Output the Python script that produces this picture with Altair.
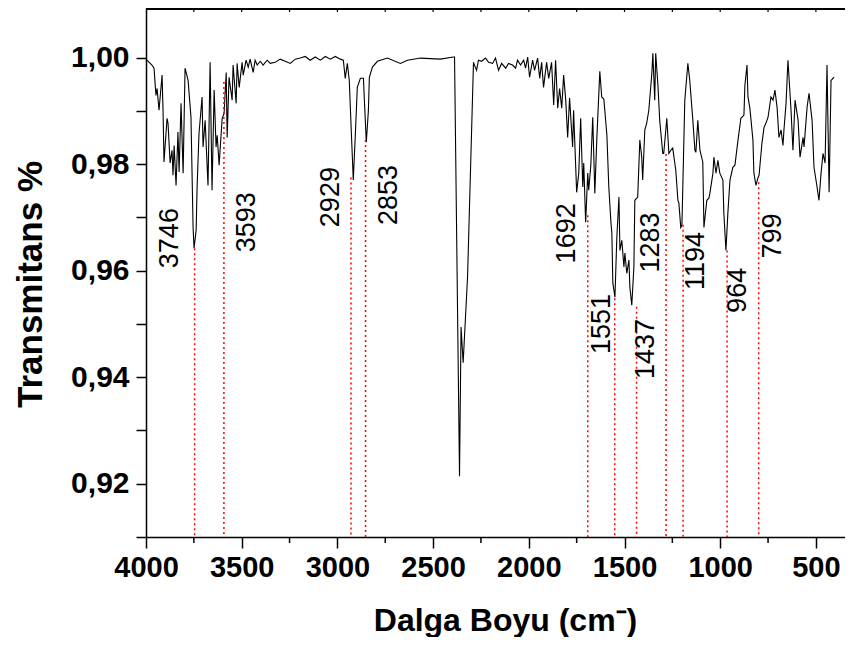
import altair as alt
import pandas as pd

# Spectrum (wavenumber cm-1, transmittance)
wavenumber = [
    3995, 3969, 3958, 3948, 3942, 3932, 3916, 3911, 3906, 3890, 3885, 3874, 3864, 3859, 3853,
    3843, 3833, 3827, 3817, 3806, 3796, 3780, 3765, 3754, 3749, 3738, 3733, 3723, 3707, 3702,
    3691, 3676, 3665, 3655, 3644, 3634, 3628, 3618, 3602, 3592, 3581, 3576, 3566, 3550, 3545,
    3529, 3524, 3513, 3498, 3492, 3477, 3466, 3456, 3440, 3430, 3419, 3403, 3388, 3367, 3351,
    3325, 3299, 3273, 3246, 3220, 3194, 3168, 3142, 3116, 3089, 3063, 3037, 3011, 2985,
    2969, 2959, 2948, 2938, 2927, 2917, 2906, 2896, 2880, 2864, 2859, 2849, 2838, 2833, 2817,
    2791, 2739, 2671, 2634, 2566, 2462, 2394, 2388, 2362, 2354, 2343, 2320, 2289, 2273, 2263,
    2247, 2226, 2210, 2189, 2174, 2158, 2142, 2121, 2106, 2085, 2069, 2059, 2043, 2027, 2017,
    2006, 1996, 1980, 1970, 1954, 1943, 1933, 1923, 1907, 1896, 1881, 1870, 1860, 1849, 1839,
    1828, 1818, 1807, 1797, 1787, 1771, 1766, 1750, 1739, 1729, 1718, 1713, 1703, 1692, 1687,
    1676, 1666, 1655, 1645, 1629, 1619, 1608, 1592, 1582, 1571, 1566, 1561, 1550, 1540, 1529,
    1524, 1514, 1503, 1498, 1488, 1477, 1472, 1462, 1451, 1446, 1431, 1420, 1410, 1405, 1394,
    1384, 1373, 1357, 1352, 1342, 1337, 1326, 1316, 1300, 1295, 1279, 1268, 1258, 1248, 1232,
    1221, 1216, 1206, 1200, 1185, 1169, 1159, 1143, 1132, 1127, 1117, 1106, 1091, 1085, 1070,
    1059, 1054, 1038, 1033, 1022, 1012, 1002, 986, 981, 970, 960, 949, 934, 923, 907,
    892, 876, 871, 860, 855, 845, 829, 824, 813, 803, 797, 782, 771, 761, 750,
    735, 724, 714, 703, 693, 682, 672, 667, 656, 646, 630, 620, 609, 593, 583,
    567, 562, 546, 536, 520, 510, 494, 484, 473, 463, 452, 442, 431, 421, 405,
]
transmittance = [
    0.9995, 0.9986, 0.9980, 0.9929, 0.9942, 0.9901, 0.9967, 0.9901, 0.9804, 0.9886, 0.9877, 0.9802, 0.9826, 0.9779, 0.9835,
    0.9760, 0.9860, 0.9785, 0.9914, 0.9783, 0.9980, 0.9957, 0.9888, 0.9681, 0.9642, 0.9676, 0.9757, 0.9858, 0.9926, 0.9832,
    0.9882, 0.9760, 0.9991, 0.9751, 0.9939, 0.9832, 0.9854, 0.9798, 0.9886, 0.9895, 0.9972, 0.9850, 0.9963, 0.9920, 0.9986,
    0.9914, 0.9989, 0.9944, 0.9991, 0.9967, 0.9995, 0.9982, 0.9997, 0.9972, 0.9995, 0.9986, 0.9993, 0.9986, 0.9995, 0.9989,
    0.9991, 0.9997, 0.9993, 0.9989, 0.9997, 0.9999, 1.0002, 0.9995, 1.0001, 0.9995, 1.0002, 0.9997, 1.0002, 0.9997,
    0.9995, 0.9961, 0.9989, 0.9957, 0.9858, 0.9770, 0.9858, 0.9944, 0.9961, 0.9961, 0.9920, 0.9841, 0.9901, 0.9963, 0.9982,
    0.9993, 0.9999, 0.9989, 0.9995, 0.9999, 0.9997, 1.0001, 1.0001, 0.9214, 0.9494, 0.9427, 0.9588, 0.9991, 0.9976, 0.9995,
    0.9993, 0.9999, 0.9991, 0.9989, 0.9999, 0.9976, 0.9989, 0.9980, 0.9989, 0.9986, 0.9980, 0.9995, 0.9986, 0.9995, 0.9980,
    1.0001, 0.9963, 0.9995, 0.9976, 0.9999, 0.9961, 0.9991, 0.9944, 0.9991, 0.9961, 0.9991, 0.9911, 0.9995, 0.9905, 0.9942,
    0.9905, 0.9967, 0.9920, 0.9850, 0.9924, 0.9832, 0.9901, 0.9747, 0.9783, 0.9886, 0.9757, 0.9802, 0.9691, 0.9783, 0.9751,
    0.9798, 0.9888, 0.9745, 0.9845, 0.9974, 0.9926, 0.9922, 0.9854, 0.9757, 0.9691, 0.9670, 0.9577, 0.9550, 0.9663, 0.9738,
    0.9638, 0.9657, 0.9607, 0.9633, 0.9595, 0.9620, 0.9569, 0.9535, 0.9607, 0.9732, 0.9738, 0.9845, 0.9813, 0.9770, 0.9864,
    0.9877, 0.9901, 0.9971, 1.0008, 0.9920, 1.0008, 0.9952, 0.9882, 0.9820, 0.9820, 0.9886, 0.9820, 0.9826, 0.9830, 0.9788,
    0.9732, 0.9727, 0.9681, 0.9685, 0.9920, 0.9989, 0.9957, 0.9882, 0.9826, 0.9822, 0.9882, 0.9826, 0.9804, 0.9681, 0.9732,
    0.9736, 0.9745, 0.9783, 0.9813, 0.9783, 0.9807, 0.9783, 0.9770, 0.9708, 0.9638, 0.9708, 0.9770, 0.9794, 0.9798, 0.9845,
    0.9886, 0.9892, 0.9948, 0.9986, 0.9926, 0.9905, 0.9845, 0.9783, 0.9760, 0.9774, 0.9779, 0.9839, 0.9869, 0.9877, 0.9888,
    0.9926, 0.9920, 0.9939, 0.9907, 0.9850, 0.9864, 0.9835, 0.9864, 0.9914, 0.9995, 0.9901, 0.9826, 0.9920, 0.9882, 0.9813,
    0.9850, 0.9832, 0.9907, 0.9933, 0.9882, 0.9794, 0.9757, 0.9732, 0.9783, 0.9820, 0.9802, 0.9986, 0.9747, 0.9957, 0.9963,
]

# Marked peaks
peaks = [3746, 3593, 2929, 2853, 1692, 1551, 1437, 1283, 1194, 964, 799]
peak_top = [0.9642, 0.9954, 0.9775, 0.9845, 0.9704, 0.9548, 0.9532, 0.9819, 0.9686, 0.9638, 0.9766]
label_x = [3874, 3471, 3032, 2728, 1802, 1619, 1389, 1363, 1127, 907, 724]
label_y = [0.9661, 0.9691, 0.9738, 0.9742, 0.9670, 0.9500, 0.9453, 0.9653, 0.9618, 0.9563, 0.9665]

x_major = [4000, 3500, 3000, 2500, 2000, 1500, 1000, 500]
x_minor = [3750, 3250, 2750, 2250, 1750, 1250, 750]
x_top_ticks = [3750, 3500, 3250, 3000, 2750, 2500, 2250, 2000, 1750, 1500, 1250, 1000, 750, 500]
y_ticks = [0.91, 0.92, 0.93, 0.94, 0.95, 0.96, 0.97, 0.98, 0.99, 1.00]

W, H = 699, 529
FONT = "Liberation Sans"

spec = pd.DataFrame({"wn": wavenumber, "t": transmittance, "i": range(len(wavenumber))})
pk = pd.DataFrame({"wn": peaks, "t": peak_top, "lx": label_x, "ly": label_y,
                   "txt": [str(p) for p in peaks]})
minor_df = pd.DataFrame({"wn": x_minor})
top_df = pd.DataFrame({"wn": x_top_ticks})

xs = alt.Scale(domain=[348, 4000], reverse=True, nice=False, zero=False)
ys = alt.Scale(domain=[0.91, 1.0093], nice=False, zero=False)

x_axis = alt.Axis(
    values=x_major, format="d", title="Dalga Boyu (cm⁻)", grid=False,
    labelFont=FONT, labelFontWeight="bold", labelFontSize=29, labelColor="black",
    labelPadding=5, tickSize=11, labelFlush=False, labelOverlap=False,
    titleFont=FONT, titleFontWeight="bold", titleFontSize=32, titleColor="black",
    titleX=359, titleY=93, titleAlign="center", titleBaseline="alphabetic")
y_axis = alt.Axis(
    values=y_ticks, title="Transmitans %", grid=False,
    labelExpr="(round(datum.value*100) % 2 == 0) ? replace(format(datum.value, '.2f'), '.', ',') : ''",
    labelFont=FONT, labelFontWeight="bold", labelFontSize=30, labelColor="black",
    labelPadding=7, tickSize=10, labelFlush=False, labelOverlap=False,
    titleFont=FONT, titleFontWeight="bold", titleFontSize=35, titleColor="black",
    titleX=-116, titleY=276, titleAlign="center", titleBaseline="middle", titleAngle=270)

X = alt.X("wn:Q", scale=xs, axis=x_axis)
Y = alt.Y("t:Q", scale=ys, axis=y_axis)

line = alt.Chart(spec).mark_line(color="black", strokeWidth=1.1).encode(
    x=X, y=Y, order="i:Q",
)

red = alt.Chart(pk).mark_rule(color="#ff0000", strokeWidth=1.5, strokeDash=[2, 3]).encode(
    x=X, y=Y, y2=alt.value(H),
)

labels = alt.Chart(pk).mark_text(font=FONT, fontSize=27, color="black", angle=270,
                                 align="center", baseline="middle").encode(
    x=alt.X("lx:Q", scale=xs, axis=x_axis),
    y=alt.Y("ly:Q", scale=ys, axis=y_axis),
    text="txt:N",
)

minor = alt.Chart(minor_df).mark_rule(color="black", strokeWidth=1.5).encode(
    x=X, y=alt.value(H), y2=alt.value(H + 6),
)

top_ticks = alt.Chart(top_df).mark_rule(color="black", strokeWidth=1.2).encode(
    x=X, y=alt.value(0), y2=alt.value(4),
)

frame_top = alt.Chart(top_df).mark_rule(color="black", strokeWidth=1.5).encode(
    x=alt.value(0), x2=alt.value(W), y=alt.value(0.75),
)

chart = alt.layer(line, red, labels, minor, top_ticks, frame_top).properties(
    width=W, height=H,
    autosize=alt.AutoSizeParams(type="none"),
    padding={"left": 138, "top": 0, "right": 0, "bottom": 100},
).configure_view(stroke=None).configure_axis(
    domainColor="black", domainWidth=1.5, tickColor="black", tickWidth=1.5,
)

chart.save("out.html", embed_options={"renderer": "svg", "actions": False})
